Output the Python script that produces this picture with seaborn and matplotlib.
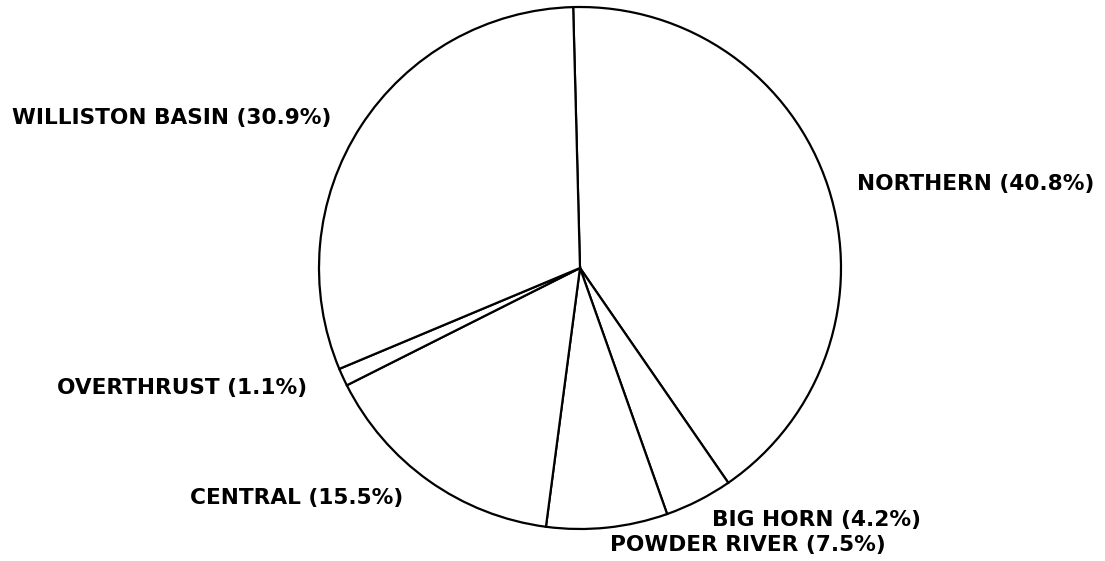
import matplotlib
matplotlib.use("Agg")
import matplotlib.pyplot as plt
import seaborn as sns

# Share of each basin, clockwise from the top
basins = ["NORTHERN", "BIG HORN", "POWDER RIVER", "CENTRAL", "OVERTHRUST", "WILLISTON BASIN"]
shares = [40.8, 4.2, 7.5, 15.5, 1.1, 30.9]

# label anchor points in pixel coordinates (left edge, vertical centre, y from top)
label_xy = [(857, 184), (712, 520), (610, 545), (190, 498), (57, 388), (12, 118)]

W, H = 1105, 561
cx, cy, r = 580, 268, 261

sns.set_style("white")
plt.rcParams["font.family"] = ["DejaVu Sans"]

fig = plt.figure(figsize=(W / 100, H / 100), dpi=100)
ax = fig.add_axes([0, 0, 1, 1])

ax.pie(
    shares,
    startangle=91.5,
    counterclock=False,
    center=(cx, H - cy),
    radius=r,
    colors=["white"] * len(shares),
    wedgeprops={"edgecolor": "black", "linewidth": 1.6},
    frame=True,
)

for name, pct, (x, y) in zip(basins, shares, label_xy):
    ax.text(
        x, H - y, f"{name} ({pct}%)",
        ha="left", va="center", fontsize=15.6, fontweight="bold", color="black",
    )

ax.set_xlim(0, W)
ax.set_ylim(0, H)
ax.set_aspect("equal")
ax.axis("off")

fig.savefig("out.png", dpi=100, facecolor="white")
